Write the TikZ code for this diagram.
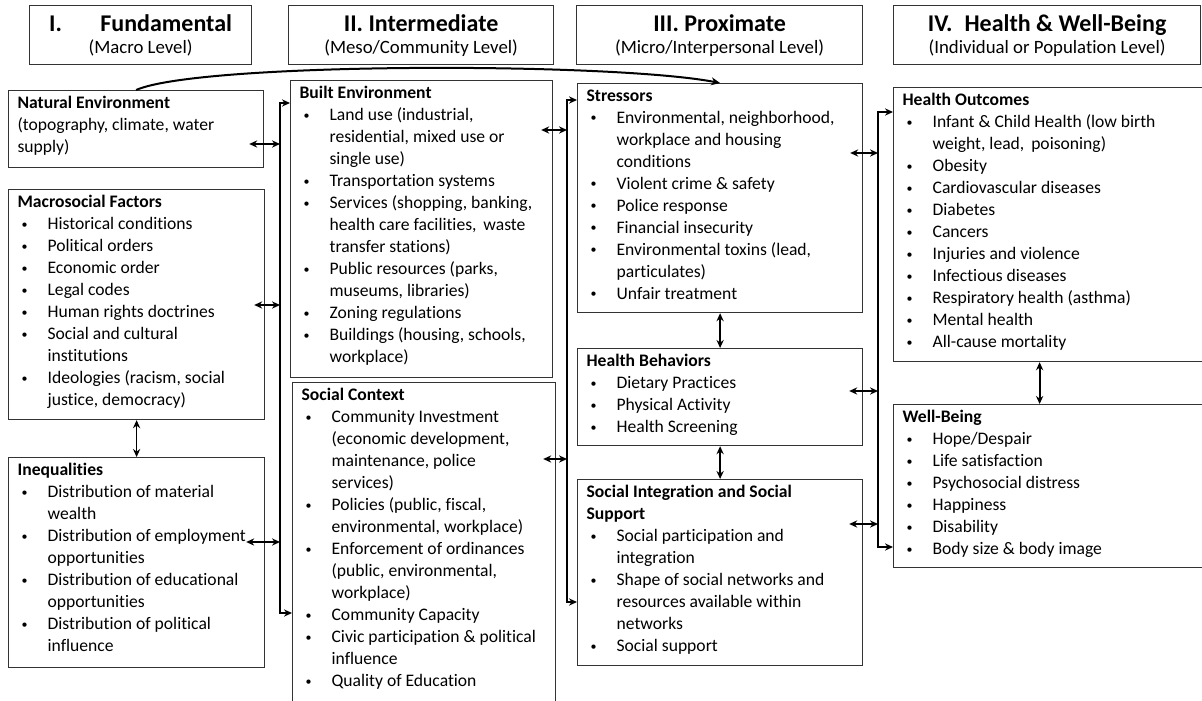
\documentclass[tikz,border=0pt]{standalone}
\usepackage{fontspec}
\setmainfont{Carlito}[Ligatures=NoCommon]
\usetikzlibrary{arrows.meta, calc}

\newcommand\itm{\par\hangindent=15pt\hangafter=1\noindent\hbox to 15pt{\hskip2pt\raisebox{0.9pt}{\fontsize{6}{6}\selectfont\textbullet}\hfil}\ignorespaces}
\newcommand\panel[3]{\parbox[t][\dimexpr #2pt/2-6pt\relax][t]{\dimexpr #1pt/2-9pt\relax}{\raggedright\rightskip=-30pt plus 1fil\parskip=0pt #3}}
\newcommand\tiertitle{\fontsize{12}{14}\selectfont\bfseries}
\newcommand\tiersub{\fontsize{9.4}{12}\selectfont}

\begin{document}
\begin{tikzpicture}[
    x=0.5pt, y=-0.5pt,
    font=\fontsize{8.8}{11}\selectfont,
    tier/.style={
        rectangle, draw=black!80,
        line width=0.6pt,
        anchor=north west,
        inner sep=0pt,
        align=center,
        minimum height=29.5pt
    },
    factor/.style={
        rectangle, draw=black!80,
        line width=0.6pt,
        anchor=north west,
        inner xsep=4.5pt, inner ysep=3pt
    },
    arrow/.style={-{Stealth[length=4.5pt,width=4pt]}, line width=1pt},
    dbl/.style={{Stealth[length=4pt,width=3.6pt]}-{Stealth[length=4pt,width=3.6pt]}, line width=1pt},
    spine/.style={dbl, line width=1.1pt}
]
\useasboundingbox (0,0) rectangle (1202,700);

% Level headers
\node [tier, minimum width=111pt] (fund) at (29,5) {{\tiertitle I.\hspace{1.6em}Fundamental}\\[0pt]{\tiersub (Macro Level)}};
\node [tier, minimum width=132.5pt] (inter) at (288,5) {{\tiertitle II. Intermediate}\\[0pt]{\tiersub (Meso/Community Level)}};
\node [tier, minimum width=143pt] (prox) at (576,5) {{\tiertitle III. Proximate}\\[0pt]{\tiersub (Micro/Interpersonal Level)}};
\node [tier, minimum width=153.5pt] (health) at (893,5) {{\tiertitle IV.\hspace{0.5em}Health \& Well-Being}\\[0pt]{\tiersub (Individual or Population Level)}};

% Column I
\node [factor] (natenv) at (8,90) {\panel{255}{77}{\textbf{Natural Environment}\newline
    (topography, climate, water\newline supply)}};
\node [factor] (macro) at (8,189) {\panel{256}{230}{\textbf{Macrosocial Factors}
    \itm Historical conditions
    \itm Political orders
    \itm Economic order
    \itm Legal codes
    \itm Human rights doctrines
    \itm Social and cultural\newline institutions
    \itm Ideologies (racism, social\newline justice, democracy)}};
\node [factor] (ineq) at (8,457) {\panel{256}{210}{\textbf{Inequalities}
    \itm Distribution of material\newline wealth
    \itm Distribution of employment\newline opportunities
    \itm Distribution of educational\newline opportunities
    \itm Distribution of political\newline influence}};

% Column II
\node [factor] (built) at (290,80) {\panel{262}{297}{\textbf{Built Environment}
    \itm Land use (industrial,\newline residential, mixed use or\newline single use)
    \itm Transportation systems
    \itm Services (shopping, banking,\newline health care facilities,\, waste\newline transfer stations)
    \itm Public resources (parks,\newline museums, libraries)
    \itm Zoning regulations
    \itm Buildings (housing, schools,\newline workplace)}};
\node [factor] (social) at (292,382) {\panel{263}{340}{\textbf{Social Context}
    \itm Community Investment\newline (economic development,\newline maintenance, police\newline services)
    \itm Policies (public, fiscal,\newline environmental, workplace)
    \itm Enforcement of ordinances\newline (public, environmental,\newline workplace)
    \itm Community Capacity
    \itm Civic participation \& political\newline influence
    \itm Quality of Education}};

% Column III
\node [factor] (stress) at (577,83) {\panel{285}{229}{\textbf{Stressors}
    \itm Environmental, neighborhood,\newline workplace and housing\newline conditions
    \itm Violent crime \& safety
    \itm Police response
    \itm Financial insecurity
    \itm Environmental toxins (lead,\newline particulates)
    \itm Unfair treatment}};
\node [factor] (behav) at (577,348) {\panel{285}{97}{\textbf{Health Behaviors}
    \itm Dietary Practices
    \itm Physical Activity
    \itm Health Screening}};
\node [factor] (integ) at (577,479) {\panel{285}{186}{\textbf{Social Integration and Social\newline Support}
    \itm Social participation and\newline integration
    \itm Shape of social networks and\newline resources available within\newline networks
    \itm Social support}};

% Column IV
\node [factor] (outcomes) at (893,87) {\panel{310}{274}{\textbf{Health Outcomes}
    \itm Infant \& Child Health (low birth\newline weight, lead,\, poisoning)
    \itm Obesity
    \itm Cardiovascular diseases
    \itm Diabetes
    \itm Cancers
    \itm Injuries and violence
    \itm Infectious diseases
    \itm Respiratory health (asthma)
    \itm Mental health
    \itm All-cause mortality}};
\node [factor] (wellb) at (893,404) {\panel{310}{163}{\textbf{Well-Being}
    \itm Hope/Despair
    \itm Life satisfaction
    \itm Psychosocial distress
    \itm Happiness
    \itm Disability
    \itm Body size \& body image}};

% Spine junctions
\coordinate (a1) at (280,103);
\coordinate (a2) at (280,613);
\coordinate (b1) at (567,100);
\coordinate (b2) at (567,602);
\coordinate (c1) at (878,112);
\coordinate (c2) at (878,547);
\coordinate (natJ) at (280,144);
\coordinate (macJ) at (280,305);
\coordinate (ineqJ) at (280,542);
\coordinate (bltJ) at (567,130);
\coordinate (socJ) at (567,459);
\coordinate (strJ) at (878,153);
\coordinate (behJ) at (878,391);
\coordinate (intJ) at (878,524);

% Spines
\draw [spine] (built.west |- a1) -- (a1) -- (a2) -- (social.west |- a2);
\draw [spine] (stress.west |- b1) -- (b1) -- (b2) -- (integ.west |- b2);
\draw [spine] (outcomes.west |- c1) -- (c1) -- (c2) -- (wellb.west |- c2);

% Boxes to spines
\draw [dbl] ($(natenv.east |- natJ)+(-7.5pt,0)$) -- (natJ);
\draw [dbl] ($(macro.east |- macJ)+(-5.5pt,0)$) -- (macJ);
\draw [dbl] ($(ineq.east |- ineqJ)+(-9.5pt,0)$) -- (ineqJ);
\draw [dbl] ($(built.east |- bltJ)+(-6pt,0)$) -- (bltJ);
\draw [dbl] ($(social.east |- socJ)+(-6.5pt,0)$) -- (socJ);
\draw [dbl] ($(stress.east |- strJ)+(-6.5pt,0)$) -- (strJ);
\draw [dbl] ($(behav.east |- behJ)+(-7pt,0)$) -- (behJ);
\draw [dbl] ($(integ.east |- intJ)+(-7pt,0)$) -- (intJ);

% Within columns
\draw [dbl, line width=0.7pt] (macro) -- (ineq);
\draw [dbl] (stress) -- (behav);
\draw [dbl] (behav) -- (integ);
\draw [dbl] ([xshift=-4.5pt]outcomes.south) -- ([xshift=-4.5pt]wellb.north);

% Natural environment to stressors
\draw [arrow] (natenv.north) .. controls (200,62) and (610,62) .. (stress.north);

\end{tikzpicture}
\end{document}
